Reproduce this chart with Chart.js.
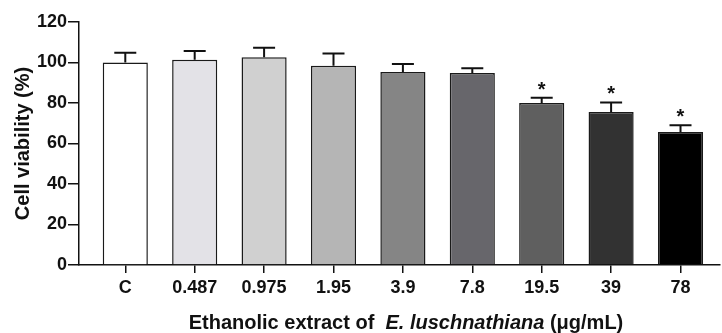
<!DOCTYPE html>
<html>
<head>
<meta charset="utf-8">
<script src="https://cdn.jsdelivr.net/npm/chart.js@4.4.1/dist/chart.umd.min.js"></script>
<style>
  html, body { margin: 0; padding: 0; background: #fff; }
  #wrap { position: relative; width: 722px; height: 333px; }
  #xtitle {
    position: absolute; left: 0; width: 722px; top: 311px; text-align: center;
    font-family: 'Liberation Sans', Arial, sans-serif; font-weight: bold; font-size: 20px;
    color: #111; line-height: 22px; padding-left: 90px; box-sizing: border-box; white-space: pre;
  }
</style>
</head>
<body>
<div id="wrap">
  <canvas id="c" width="722" height="333"></canvas>
  <div id="xtitle">Ethanolic extract of  <i>E. luschnathiana</i> (μg/mL)</div>
</div>
<script>
const categories = ['C', '0.487', '0.975', '1.95', '3.9', '7.8', '19.5', '39', '78'];
const viability = [100.0, 101.4, 102.6, 98.4, 95.3, 94.8, 80.0, 75.6, 65.7];
const errorUp = [4.8, 4.3, 4.7, 6.1, 4.0, 2.3, 2.6, 4.7, 3.3];
const significant = [false, false, false, false, false, false, true, true, true];
const barColors = ['#ffffff', '#e3e2e7', '#d0d0d0', '#b5b5b5', '#858585', '#67666b', '#5f5f5f', '#323232', '#000000'];
const yTicks = [0, 20, 40, 60, 80, 100, 120];

const FONT = "'Liberation Sans', Arial, sans-serif";

const errorBarPlugin = {
  id: 'errorBars',
  afterDatasetsDraw(chart) {
    const ctx = chart.ctx;
    const meta = chart.getDatasetMeta(0);
    const yScale = chart.scales.y;
    ctx.save();
    ctx.strokeStyle = '#111';
    ctx.lineWidth = 2;
    meta.data.forEach((bar, i) => {
      const x = bar.x;
      const yTop = yScale.getPixelForValue(viability[i]);
      const yErr = yScale.getPixelForValue(viability[i] + errorUp[i]);
      ctx.beginPath();
      ctx.moveTo(x, yTop);
      ctx.lineTo(x, yErr);
      ctx.moveTo(x - 11, yErr);
      ctx.lineTo(x + 11, yErr);
      ctx.stroke();
      if (significant[i]) {
        ctx.fillStyle = '#111';
        ctx.font = 'bold 20px ' + FONT;
        ctx.textAlign = 'center';
        ctx.textBaseline = 'alphabetic';
        ctx.fillText('*', x, yErr - 2);
      }
    });
    ctx.restore();
  }
};

new Chart(document.getElementById('c'), {
  type: 'bar',
  data: {
    datasets: [{
      data: categories.map((c, i) => ({ x: i, y: viability[i] })),
      backgroundColor: barColors,
      borderColor: '#1a1a1a',
      borderWidth: 1.5,
      categoryPercentage: 1,
      barPercentage: 0.65
    }]
  },
  options: {
    responsive: false,
    animation: false,
    layout: { padding: { top: 22, right: 2, bottom: 0, left: 0 } },
    plugins: { legend: { display: false }, tooltip: { enabled: false } },
    scales: {
      x: {
        type: 'linear',
        offset: false,
        min: -0.667,
        max: 8.569,
        grid: { offset: false, drawOnChartArea: false, drawTicks: true, tickLength: 8, color: '#111', lineWidth: 1.5 },
        border: { color: '#111', width: 1.5 },
        ticks: {
          stepSize: 1,
          includeBounds: false,
          autoSkip: false,
          maxRotation: 0,
          padding: 4,
          color: '#111',
          font: { family: FONT, size: 18, weight: 'bold' },
          callback: (v) => (Number.isInteger(v) && categories[v] !== undefined) ? categories[v] : ''
        },
        afterFit: (s) => { s.height = 68; }
      },
      y: {
        min: 0,
        max: 120,
        afterBuildTicks: (s) => { s.ticks = yTicks.map(v => ({ value: v })); },
        grid: { drawOnChartArea: false, drawTicks: true, tickLength: 11, color: '#111', lineWidth: 1.5 },
        border: { color: '#111', width: 1.5 },
        ticks: {
          padding: 1,
          color: '#111',
          font: { family: FONT, size: 18, weight: 'bold' }
        },
        title: {
          display: true,
          text: 'Cell viability (%)',
          color: '#111',
          font: { family: FONT, size: 20, weight: 'bold' },
          padding: { top: 11, bottom: 0 }
        },
        afterFit: (s) => { s.width = 79; }
      }
    }
  },
  plugins: [errorBarPlugin]
});
</script>
</body>
</html>
